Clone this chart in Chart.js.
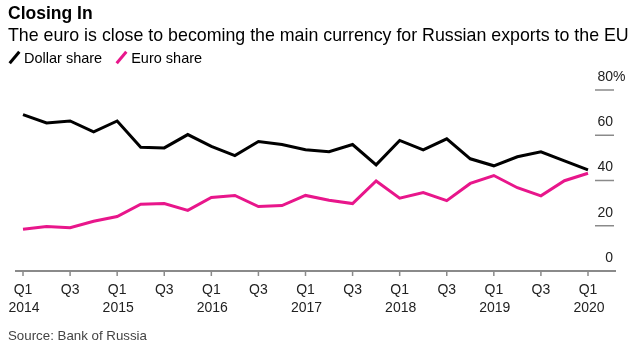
<!DOCTYPE html>
<html>
<head>
<meta charset="utf-8">
<script src="https://cdn.jsdelivr.net/npm/chart.js@4.4.1/dist/chart.umd.min.js"></script>
<style>
  html, body { margin: 0; padding: 0; background: #fff; }
  body { width: 634px; height: 349px; position: relative; overflow: hidden;
         font-family: "Liberation Sans", Arial, sans-serif; color: #000; }
  #chart { position: absolute; left: 0; top: 0; }
  .title { position: absolute; left: 8px; top: 3px; font-size: 17.5px; font-weight: bold; }
  .subtitle { position: absolute; left: 8px; top: 25px; font-size: 17.8px; white-space: nowrap; }
  .legend { position: absolute; left: 8px; top: 50px; font-size: 14.5px; white-space: nowrap; }
  .legend span.item { margin-right: 9px; }
  .legend i { display: inline-block; width: 3px; height: 15px; margin: 0 8px -2px 5px;
              transform: rotate(40deg); }
  .source { position: absolute; left: 8px; top: 328px; font-size: 13.3px; color: #444; }
</style>
</head>
<body>
<canvas id="chart" width="634" height="349"></canvas>
<div class="title">Closing In</div>
<div class="subtitle">The euro is close to becoming the main currency for Russian exports to the EU</div>
<div class="legend">
  <span class="item"><i style="background:#000"></i>Dollar share</span>
  <span class="item"><i style="background:#e8168b"></i>Euro share</span>
</div>
<div class="source">Source: Bank of Russia</div>

<script>
// trimestres Q1 2014 .. Q1 2020
const quarters = ['Q1','Q2','Q3','Q4','Q1','Q2','Q3','Q4','Q1','Q2','Q3','Q4','Q1','Q2','Q3','Q4',
                  'Q1','Q2','Q3','Q4','Q1','Q2','Q3','Q4','Q1'];
const years = ['2014','','','','2015','','','','2016','','','','2017','','','',
               '2018','','','','2019','','','','2020'];

const dollarShare = [69.1, 65.4, 66.3, 61.5, 66.3, 54.7, 54.4, 60.3, 55.1, 51.0, 57.2, 55.9, 53.6,
                     52.7, 55.9, 46.9, 57.7, 53.5, 58.4, 49.6, 46.5, 50.5, 52.7, 48.7, 44.7];
const euroShare = [18.5, 19.7, 19.1, 22.0, 24.1, 29.5, 29.8, 26.8, 32.5, 33.4, 28.5, 28.9, 33.4,
                   31.3, 29.8, 39.8, 32.2, 34.7, 31.1, 38.7, 42.2, 36.8, 33.2, 39.9, 43.2];

const yTicks = [0, 20, 40, 60, 80];

const GREY = '#8a8a8a';

// eixos desenhados a mão, no estilo do original
const axisPlugin = {
  id: 'axisPlugin',
  afterDraw(chart) {
    const ctx = chart.ctx;
    const x = chart.scales.x;
    const y = chart.scales.y;
    const area = chart.chartArea;
    const base = y.getPixelForValue(0);

    ctx.save();
    // linha do eixo x
    ctx.strokeStyle = GREY;
    ctx.lineWidth = 2;
    ctx.beginPath();
    ctx.moveTo(area.left - 8, base);
    ctx.lineTo(area.right + 28, base);
    ctx.stroke();

    // marcas e rótulos do eixo x
    ctx.lineWidth = 1.5;
    ctx.fillStyle = '#222';
    ctx.font = '14px "Liberation Sans", Arial, sans-serif';
    ctx.textAlign = 'center';
    ctx.textBaseline = 'middle';
    quarters.forEach((q, i) => {
      if (i % 2 !== 0) return;
      const px = x.getPixelForValue(i);
      ctx.beginPath();
      ctx.moveTo(px, base);
      ctx.lineTo(px, base + 5);
      ctx.stroke();
      ctx.fillText(q, px, base + 19);
      if (years[i]) ctx.fillText(years[i], px + 1, base + 37);
    });

    // marcas e rótulos do eixo y (à direita)
    const tx0 = area.right + 7, tx1 = area.right + 26;
    yTicks.forEach(v => {
      const py = y.getPixelForValue(v);
      if (v !== 0) {
        ctx.beginPath();
        ctx.moveTo(tx0, py);
        ctx.lineTo(tx1, py);
        ctx.stroke();
      }
      ctx.textAlign = 'right';
      ctx.fillText(String(v), tx1 - 1, py - 13);
      if (v === 80) {
        ctx.textAlign = 'left';
        ctx.fillText('%', tx1 - 1, py - 13);
      }
    });
    ctx.restore();
  }
};

new Chart(document.getElementById('chart'), {
  type: 'line',
  data: {
    labels: quarters,
    datasets: [
      {
        label: 'Euro share',
        data: euroShare,
        borderColor: '#e8168b',
        borderWidth: 3,
        pointRadius: 0,
        tension: 0,
        fill: false
      },
      {
        label: 'Dollar share',
        data: dollarShare,
        borderColor: '#000',
        borderWidth: 3,
        pointRadius: 0,
        tension: 0,
        fill: false
      }
    ]
  },
  options: {
    responsive: false,
    animation: false,
    clip: false,
    layout: { padding: { left: 23, right: 46, top: 90, bottom: 78 } },
    plugins: { legend: { display: false }, tooltip: { enabled: false } },
    scales: {
      x: { type: 'category', display: false, offset: false },
      y: { display: false, min: 0, max: 80 }
    }
  },
  plugins: [axisPlugin]
});
</script>
</body>
</html>
